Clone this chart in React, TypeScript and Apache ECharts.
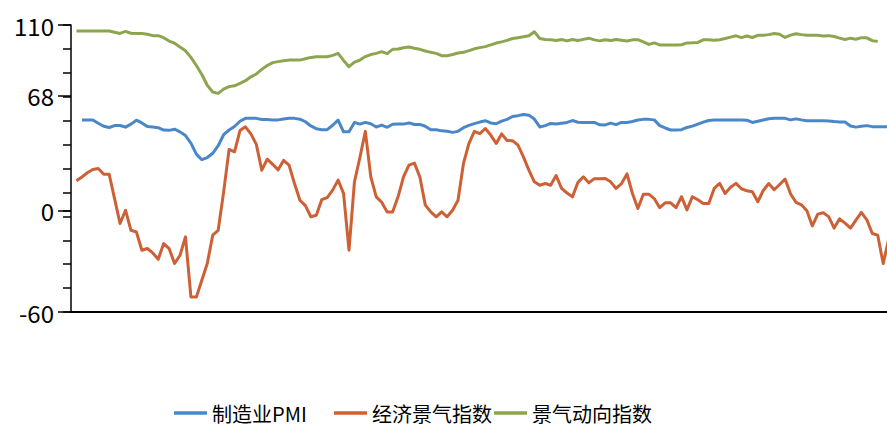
import React, { useEffect, useRef } from "react";
import * as echarts from "echarts";

// Monthly observations, index 0 = first month on the axis.
// 制造业PMI (first month not reported)
const pmi: (number | null)[] = [
  null, 53.7, 53.7, 53.7, 51.8, 50, 49.3, 50.4, 50.5, 49.5,
  51.3, 53.6, 52, 49.9, 49.6, 49.2, 47.8, 47.6, 48.3, 46.7,
  44.5, 40, 33.5, 30.2, 31.5, 34, 38.5, 45, 47.8, 49.9,
  53, 54.7, 54.7, 54.7, 54, 54, 53.7, 53.8, 54.3, 54.7,
  54.7, 54.2, 52.7, 50.2, 48.6, 48, 48, 50.6, 53.7, 46.7,
  46.7, 52.3, 51.3, 52.3, 51.5, 49.6, 50.7, 49.4, 51.2, 51.3,
  51.3, 52, 51.1, 51.1, 50, 48, 48, 47.3, 47.1, 46.4,
  47, 49.2, 50.5, 51.6, 52.5, 53.3, 52, 51.5, 53.1, 54.1,
  55.8, 56.3, 57, 56.6, 54.3, 49.6, 50.4, 51.7, 51.3, 51.8,
  52.3, 53.4, 52.4, 52.3, 52.3, 52.3, 50.9, 50.8, 51.9, 51,
  52.3, 52.3, 52.8, 53.7, 54.1, 54.1, 53.8, 50.4, 49, 47.8,
  47.8, 48, 49.3, 50.1, 51.3, 52.5, 53.4, 53.7, 53.7, 53.7,
  53.7, 53.7, 53.7, 53.6, 52.3, 53, 53.7, 54.5, 54.7, 54.7,
  54.7, 53.8, 54.4, 53.8, 53.3, 53.3, 53.3, 53.3, 53.1, 52.8,
  52.6, 52.5, 50.2, 49.5, 50, 50.4, 49.8, 49.8, 49.8, 49.8,
];

// 经济景气指数
const climate: number[] = [
  17.7, 20, 22.5, 24.4, 25, 21.6, 21.6, 7, -7.6, 0.3,
  -11.6, -12.6, -23.4, -22.4, -25, -28.8, -19.5, -22.4, -31.3, -26.4,
  -15.5, -51.1, -51.1, -41.2, -31.3, -14.5, -11.6, 11, 36.3, 34.9,
  47.5, 49.7, 45.5, 39.3, 24, 30.5, 27.5, 24.2, 29.8, 27,
  16.1, 6.2, 3, -3.6, -2.7, 6.5, 7.8, 12.2, 18.1, 10.3,
  -23.4, 17.1, 31.5, 47, 20, 8.2, 5, -0.7, -0.7, 8.2,
  20, 27, 28.2, 20, 3.3, -0.7, -3.6, -0.7, -3.6, 0.3,
  6.2, 28, 39.8, 47, 45.7, 48.7, 44.8, 39.8, 45.5, 41.6,
  41.5, 38.8, 31.9, 24, 17.1, 15.1, 16.1, 15.1, 20.8, 13.2,
  10.5, 8.2, 16.8, 20.1, 16.5, 19, 19, 19.1, 17.1, 13.2,
  16.1, 21.8, 10.2, 1.3, 9.8, 9.8, 7.2, 1.8, 4.7, 4.7,
  1.8, 8.3, 0.5, 8.3, 6.5, 4.3, 4.3, 13.2, 16.2, 10.2,
  13.9, 16.2, 13, 11.8, 11.2, 5.3, 12, 16.1, 12.4, 15.5,
  18.8, 10, 5, 3.5, 0, -9, -2, -1.2, -3.5, -10.3,
  -4.8, -7.4, -10.3, -5.6, -1, -5.4, -13.5, -14.5, -31.3, -17,
];

// 景气动向指数
const trend: number[] = [
  106.4, 106.4, 106.4, 106.4, 106.4, 106.4, 106.4, 105.7, 105, 106.2,
  105.1, 105, 105, 104.5, 103.7, 103.7, 102.5, 100.5, 99.2, 97,
  94.7, 90.8, 86, 80.7, 74.3, 70.3, 69.5, 72, 73.5, 74,
  75.4, 77, 79.3, 81, 83.7, 86, 87.7, 88.3, 88.8, 89.2,
  89.2, 89.2, 90, 90.8, 91.2, 91.2, 91.2, 92, 93.2, 89,
  85.3, 88, 89.2, 91.3, 92.5, 93.2, 94.2, 93, 95.6, 95.8,
  96.5, 97, 96.2, 95.6, 94.6, 93.8, 93.2, 91.8, 91.8, 92.5,
  93.4, 93.8, 94.8, 95.9, 96.6, 97.2, 98.2, 99.3, 100, 100.9,
  102, 102.5, 103, 103.6, 106, 102, 101.4, 101.3, 100.8, 101.4,
  100.6, 101.4, 100.8, 101.5, 102.2, 101.2, 100.6, 101.3, 100.8, 101.4,
  101, 100.5, 101.2, 101.3, 100, 98.5, 99.4, 98.2, 98.1, 98.1,
  98.1, 98.3, 99.4, 99.5, 99.7, 101.2, 101.2, 100.9, 101.3, 102,
  102.8, 103.6, 102.5, 103.5, 102.6, 103.9, 103.9, 104.3, 105, 104.5,
  102.6, 104, 104.8, 104.3, 103.9, 103.9, 103.9, 103.5, 103.7, 103.2,
  102.2, 101.4, 102.2, 101.6, 102.5, 102.4, 100.7, 100.3,
];

// Y-axis: labelled values and the evenly spaced minor ticks
const yLabelValues = [110, 68, 0, -60];
const yMinorTicks = [
  110, 95.83, 81.67, 67.5, 53.33, 39.17, 25, 10.83, 0, -3.33, -17.5, -31.67, -45.83, -60,
];

const SERIES_NAMES = ["制造业PMI", "经济景气指数", "景气动向指数"];
const COLORS = ["#4A87C9", "#CD6035", "#8CA54E"];
const FONT = "'Noto Sans CJK SC', 'Noto Sans', sans-serif";

const toPairs = (arr: (number | null)[]) =>
  arr.map((v, i) => [i, v] as [number, number | null]).filter((d) => d[1] !== null);

export default function App() {
  const ref = useRef<HTMLDivElement>(null);

  useEffect(() => {
    if (!ref.current) return;
    const chart = echarts.init(ref.current, undefined, { renderer: "svg" });

    const legendBase = {
      icon: "rect",
      itemWidth: 33,
      itemHeight: 3.5,
      top: 403,
      padding: 0,
      itemGap: 0,
      selectedMode: false,
      textStyle: { fontSize: 20, color: "#000", fontFamily: FONT },
    };

    chart.setOption({
      animation: false,
      grid: { left: 71, right: 0, top: 25, bottom: 116, containLabel: false },
      legend: [
        { ...legendBase, left: 174, data: [SERIES_NAMES[0]] },
        { ...legendBase, left: 334, data: [SERIES_NAMES[1]] },
        { ...legendBase, left: 494, data: [SERIES_NAMES[2]] },
      ],
      xAxis: {
        type: "value",
        min: -1,
        max: 148.7,
        axisLine: { show: true, onZero: false, lineStyle: { color: "#000", width: 2 } },
        axisTick: { show: false },
        axisLabel: { show: false },
        splitLine: { show: false },
      },
      yAxis: [
        {
          type: "value",
          min: -60,
          max: 110,
          position: "left",
          axisLine: { show: true, onZero: false, lineStyle: { color: "#000", width: 1.5 } },
          axisTick: {
            show: true,
            length: 8,
            customValues: yMinorTicks,
            lineStyle: { color: "#000", width: 1.5 },
          },
          axisLabel: { show: false },
          splitLine: { show: false },
        },
        {
          type: "value",
          min: -60,
          max: 110,
          position: "left",
          axisLine: { show: false, onZero: false },
          axisTick: {
            show: true,
            length: 13,
            customValues: yLabelValues,
            lineStyle: { color: "#000", width: 1.5 },
          },
          axisLabel: {
            show: true,
            customValues: yLabelValues,
            margin: 17,
            fontSize: 24,
            color: "#000",
            fontFamily: FONT,
          },
          splitLine: { show: false },
        },
      ],
      series: [pmi, climate, trend].map((arr, k) => ({
        name: SERIES_NAMES[k],
        type: "line",
        yAxisIndex: 0,
        data: toPairs(arr),
        showSymbol: false,
        symbol: "none",
        color: COLORS[k],
        lineStyle: { color: COLORS[k], width: 3, join: "round" },
        clip: true,
        z: 3 - k,
      })),
    });

    return () => chart.dispose();
  }, []);

  return (
    <div
      ref={ref}
      style={{ position: "absolute", left: 0, top: 0, width: 887, height: 428, background: "#fff" }}
    />
  );
}
